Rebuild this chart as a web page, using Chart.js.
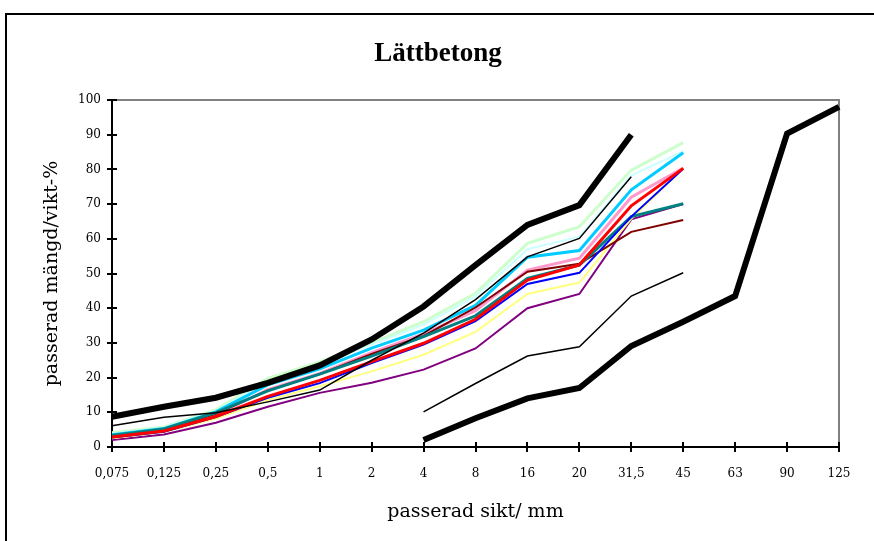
<!DOCTYPE html>
<html>
<head>
<meta charset="utf-8">
<script src="https://cdn.jsdelivr.net/npm/chart.js@4.4.1/dist/chart.umd.min.js"></script>
<style>
  body { margin: 0; background: #fff; }
  #wrap { width: 874px; height: 541px; }
</style>
</head>
<body>
<div id="wrap"><canvas id="myChart"></canvas></div>
<script>
const sieves = ["0,075", "0,125", "0,25", "0,5", "1", "2", "4", "8", "16", "20", "31,5", "45", "63", "90", "125"];

// gränskurvor
const upperLimit = [8.7, 11.6, 14.2, 18.5, 23.5, 31, 40.5, 52.4, 64, 69.7, 90, null, null, null, null];
const lowerLimit = [null, null, null, null, null, null, 2, 8.3, 14, 17, 29.1, 36.1, 43.5, 90.3, 98];

// prover
const blackLow = [null, null, null, null, null, null, 10.1, 18.3, 26.2, 28.9, 43.5, 50.2];
const blackMid = [6.1, 8.6, 9.9, 13, 16.4, 25, 32.8, 42.5, 54.8, 60.1, 77.9];
const lightGreen = [4.1, 5.8, 10.7, 19.8, 24.5, 30, 36.1, 44.3, 58.7, 63.5, 79.8, 87.7];
const lightCyan = [3.8, 5.6, 10.4, 19, 23.8, 29.5, 35.2, 43.4, 57, 60.6, 78.3, 85.2];
const skyBlue = [3.5, 5.3, 10.1, 17.9, 22.5, 28.5, 33.7, 40.8, 54.7, 56.6, 74.1, 84.8];
const pink = [3.0, 4.8, 9.3, 16.5, 21.2, 27.2, 32.6, 39.3, 51, 54.4, 72, 80.4];
const darkRed = [3.1, 5.0, 9.6, 16.3, 21, 26.8, 32, 40.2, 50.5, 52.8, 62, 65.4];
const teal = [3.3, 5.2, 9.9, 16.2, 21, 26.2, 31.8, 37.8, 48.6, 52.4, 66.4, 70.1];
const red = [2.9, 4.6, 8.8, 14.6, 19.2, 24.6, 29.9, 36.8, 48.1, 52.5, 69.5, 80.3];
const blue = [2.7, 4.4, 8.6, 14.2, 18.4, 24.2, 29.5, 36.3, 47, 50.2, 66.4, 80.2];
const yellow = [2.5, 4.3, 8.2, 13.5, 17.5, 21.8, 26.6, 33.2, 44.1, 47.4, 65.8, 80.2];
const purple = [2.0, 3.6, 7, 11.6, 15.6, 18.5, 22.3, 28.4, 40, 44.1, 65.6, 70];

const serif = "'DejaVu Serif', serif";

function line(label, data, color, width) {
  return {
    label: label,
    data: data,
    borderColor: color,
    backgroundColor: color,
    borderWidth: width,
    fill: false,
    tension: 0,
    pointRadius: 0,
    spanGaps: false,
  };
}

// ram, grå kant och kryssande tickmarks
const decor = {
  id: "decor",
  beforeDraw(chart) {
    const { ctx, width, height } = chart;
    ctx.save();
    ctx.strokeStyle = "#000";
    ctx.lineWidth = 2;
    ctx.beginPath();
    ctx.moveTo(6, height + 2);
    ctx.lineTo(6, 14);
    ctx.lineTo(width + 2, 14);
    ctx.stroke();
    ctx.restore();
  },
  beforeDatasetsDraw(chart) {
    const { ctx, chartArea: a } = chart;
    ctx.save();
    ctx.strokeStyle = "#808080";
    ctx.lineWidth = 2;
    ctx.beginPath();
    ctx.moveTo(a.left, a.top);
    ctx.lineTo(a.right, a.top);
    ctx.lineTo(a.right, a.bottom);
    ctx.stroke();
    ctx.restore();
  },
  afterDraw(chart) {
    const { ctx, chartArea: a, scales } = chart;
    ctx.save();
    ctx.strokeStyle = "#000";
    ctx.lineWidth = 2;
    ctx.beginPath();
    scales.y.ticks.forEach((t, i) => {
      const py = Math.round(scales.y.getPixelForTick(i));
      ctx.moveTo(a.left - 5, py);
      ctx.lineTo(a.left + 5, py);
    });
    scales.x.ticks.forEach((t, i) => {
      const px = Math.round(scales.x.getPixelForTick(i));
      ctx.moveTo(px, a.bottom - 5);
      ctx.lineTo(px, a.bottom + 5);
    });
    ctx.stroke();
    ctx.restore();
  },
};

const ctx = document.getElementById("myChart");

const myChart = new Chart(ctx, {
  type: "line",
  data: {
    labels: sieves,
    datasets: [
      line("Övre gräns", upperLimit, "#000000", 6),
      line("Undre gräns", lowerLimit, "#000000", 6),
      line("Prov 1", blackLow, "#000000", 1.5),
      line("Prov 2", blackMid, "#000000", 1.5),
      line("Prov 3", red, "#ff0000", 3),
      line("Prov 4", blue, "#0000ff", 2),
      line("Prov 5", teal, "#008080", 3),
      line("Prov 6", darkRed, "#800000", 2),
      line("Prov 7", pink, "#ff99cc", 3),
      line("Prov 8", skyBlue, "#00ccff", 3),
      line("Prov 9", lightCyan, "#ccffff", 2),
      line("Prov 10", lightGreen, "#ccffcc", 3),
      line("Prov 11", yellow, "#ffff80", 2),
      line("Prov 12", purple, "#800080", 2),
    ],
  },
  options: {
    responsive: true,
    maintainAspectRatio: false,
    animation: false,
    layout: {
      padding: { left: 37, right: 35, top: 38, bottom: 0 },
    },
    plugins: {
      legend: { display: false },
      tooltip: { enabled: false },
      title: {
        display: true,
        text: "Lättbetong",
        color: "#000",
        font: { family: "'Liberation Serif', serif", weight: "bold", size: 27 },
        padding: { top: 0, bottom: 29.6 },
      },
    },
    scales: {
      x: {
        offset: false,
        grid: { display: false, drawTicks: false },
        border: { display: true, color: "#000", width: 2 },
        ticks: {
          color: "#000",
          padding: 20,
          autoSkip: false,
          maxRotation: 0,
          minRotation: 0,
          font: { family: serif, size: 12 },
        },
        title: {
          display: true,
          text: "passerad sikt/ mm",
          color: "#000",
          font: { family: serif, size: 19 },
          padding: { top: 0, bottom: 17.6 },
        },
        afterFit(scale) {
          scale.height = 94;
        },
      },
      y: {
        min: 0,
        max: 100,
        grid: { display: false, drawTicks: false },
        border: { display: true, color: "#000", width: 2 },
        ticks: {
          stepSize: 10,
          color: "#000",
          padding: 11,
          font: { family: serif, size: 12 },
        },
        title: {
          display: true,
          text: "passerad mängd/vikt-%",
          color: "#000",
          font: { family: serif, size: 19 },
          padding: { top: 3.6, bottom: 0 },
        },
        afterFit(scale) {
          scale.width = 75;
        },
      },
    },
  },
  plugins: [decor],
});
</script>
</body>
</html>
